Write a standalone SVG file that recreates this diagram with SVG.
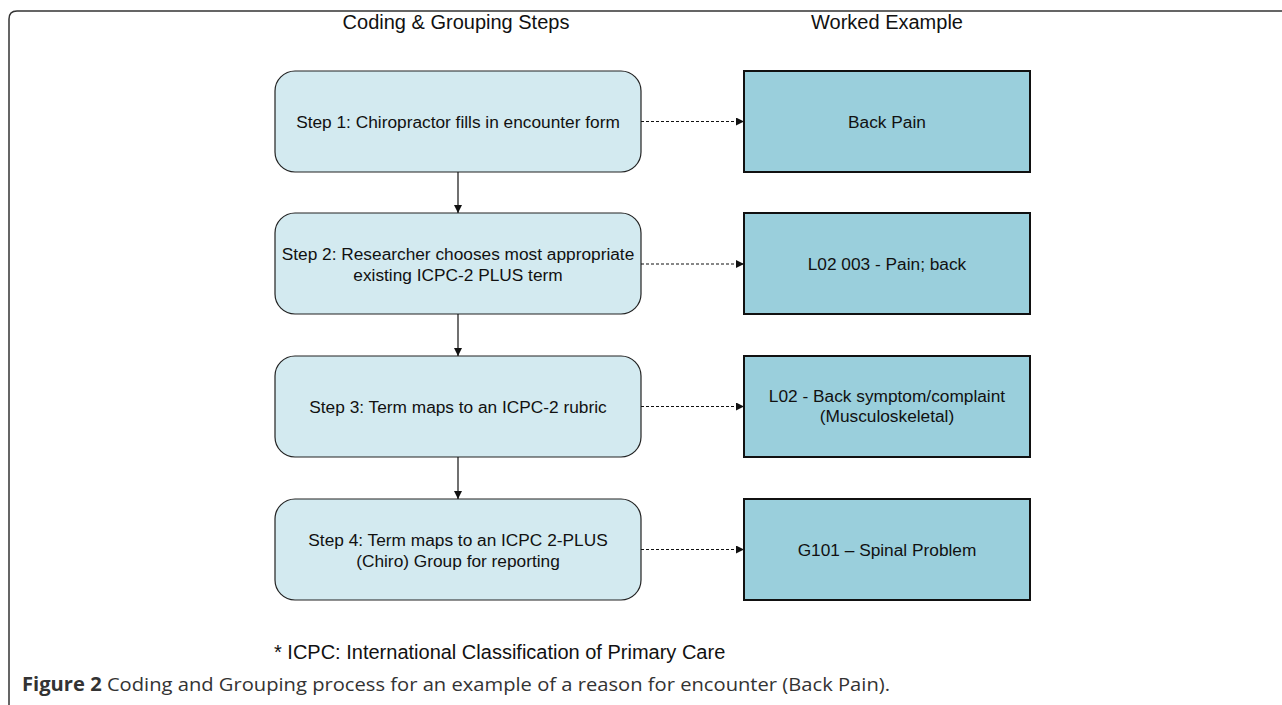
<svg xmlns="http://www.w3.org/2000/svg" width="1282" height="705" viewBox="0 0 1282 705">
<style>
.t{font-family:"Liberation Sans",Arial,sans-serif;fill:#111;text-anchor:middle}
.step{fill:#d3eaf0;stroke:#222;stroke-width:1.2}
.ex{fill:#9acfdc;stroke:#111;stroke-width:2}
.bt{font-size:17.3px}
.hd{font-size:20px}
.solid{stroke:#111;stroke-width:1.2;fill:none}
.dash{stroke:#111;stroke-width:1.2;fill:none;stroke-dasharray:3,2}
</style>
<defs>
<marker id="ah" viewBox="0 0 10 10" refX="10" refY="5" markerWidth="10" markerHeight="8" markerUnits="userSpaceOnUse" orient="auto">
<path d="M0,0 L10,5 L0,10 z" fill="#111"/>
</marker>
</defs>
<rect width="1282" height="705" fill="#fff"/>
<path d="M9,705 V19 Q9,11 17,11 H1282" fill="none" stroke="#333" stroke-width="1.5"/>
<text class="t hd" x="456" y="29">Coding &amp; Grouping Steps</text>
<text class="t hd" x="887" y="29">Worked Example</text>
<g id="step1"><rect class="step" x="275" y="71" width="366" height="101" rx="20"/><text class="t bt" x="458" y="128">Step 1: Chiropractor fills in encounter form</text></g>
<g id="step2"><rect class="step" x="275" y="213" width="366" height="101" rx="20"/><text class="t bt" x="458" y="260">Step 2: Researcher chooses most appropriate</text><text class="t bt" x="458" y="281">existing ICPC-2 PLUS term</text></g>
<g id="step3"><rect class="step" x="275" y="356" width="366" height="101" rx="20"/><text class="t bt" x="458" y="413">Step 3: Term maps to an ICPC-2 rubric</text></g>
<g id="step4"><rect class="step" x="275" y="499" width="366" height="101" rx="20"/><text class="t bt" x="458" y="546">Step 4: Term maps to an ICPC 2-PLUS</text><text class="t bt" x="458" y="567">(Chiro) Group for reporting</text></g>
<g id="ex1"><rect class="ex" x="744" y="71" width="286" height="101"/><text class="t bt" x="887" y="128">Back Pain</text></g>
<g id="ex2"><rect class="ex" x="744" y="213" width="286" height="101"/><text class="t bt" x="887" y="270">L02 003 - Pain; back</text></g>
<g id="ex3"><rect class="ex" x="744" y="356" width="286" height="101"/><text class="t bt" x="887" y="402">L02 - Back symptom/complaint</text><text class="t bt" x="887" y="422">(Musculoskeletal)</text></g>
<g id="ex4"><rect class="ex" x="744" y="499" width="286" height="101"/><text class="t bt" x="887" y="556">G101 – Spinal Problem</text></g>
<g id="connectors">
<line class="solid" x1="458" y1="172" x2="458" y2="213" marker-end="url(#ah)"/>
<line class="solid" x1="458" y1="314" x2="458" y2="356" marker-end="url(#ah)"/>
<line class="solid" x1="458" y1="457" x2="458" y2="499" marker-end="url(#ah)"/>
<line class="dash" x1="641" y1="121.5" x2="744" y2="121.5" marker-end="url(#ah)"/>
<line class="dash" x1="641" y1="264" x2="744" y2="264" marker-end="url(#ah)"/>
<line class="dash" x1="641" y1="406.5" x2="744" y2="406.5" marker-end="url(#ah)"/>
<line class="dash" x1="641" y1="549.5" x2="744" y2="549.5" marker-end="url(#ah)"/>
</g>
<text class="t" style="font-size:20px;text-anchor:start" x="274" y="659">* ICPC: International Classification of Primary Care</text>
<text style="font-family:'Open Sans','Liberation Sans',sans-serif;font-size:19px;fill:#333" x="22" y="691" textLength="868" lengthAdjust="spacingAndGlyphs"><tspan font-weight="bold">Figure 2</tspan> Coding and Grouping process for an example of a reason for encounter (Back Pain).</text>
</svg>
